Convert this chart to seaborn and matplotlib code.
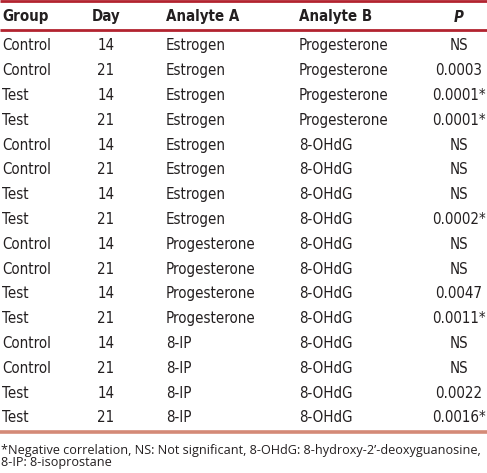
import matplotlib
matplotlib.use("Agg")
import matplotlib.pyplot as plt
import seaborn as sns
from matplotlib import font_manager

sns.set_theme(style="white")

# ---- data ----
headers = ["Group", "Day", "Analyte A", "Analyte B", "P"]
group = ["Control", "Control", "Test", "Test", "Control", "Control", "Test", "Test",
         "Control", "Control", "Test", "Test", "Control", "Control", "Test", "Test"]
day = ["14", "21", "14", "21", "14", "21", "14", "21",
       "14", "21", "14", "21", "14", "21", "14", "21"]
analyte_a = ["Estrogen"] * 8 + ["Progesterone"] * 4 + ["8-IP"] * 4
analyte_b = ["Progesterone"] * 4 + ["8-OHdG"] * 12
p_values = ["NS", "0.0003", "0.0001*", "0.0001*", "NS", "NS", "NS", "0.0002*",
            "NS", "NS", "0.0047", "0.0011*", "NS", "NS", "0.0022", "0.0016*"]
footnote = ["*Negative correlation, NS: Not significant, 8-OHdG: 8-hydroxy-2\u2019-deoxyguanosine,",
            "8-IP: 8-isoprostane"]

names = {f.name for f in font_manager.fontManager.ttflist}
cond = [f for f in font_manager.fontManager.ttflist if f.name == "DejaVu Sans" and f.stretch == "condensed"]
if "Liberation Sans Narrow" in names:
    main_font, stretch, fs = "Liberation Sans Narrow", "normal", 11.3
elif cond:
    main_font, stretch, fs = "DejaVu Sans", "condensed", 10.8
else:
    main_font, stretch, fs = "Liberation Sans", "normal", 10.6
foot_font = "Open Sans"

W, H = 487, 473
fig = plt.figure(figsize=(W / 100, H / 100), dpi=100)
ax = fig.add_axes([0, 0, 1, 1])
ax.set_xlim(0, W)
ax.set_ylim(H, 0)
ax.axis("off")

txt = "#231f20"
dark_red = "#b2232f"
salmon = "#d48a77"

# column anchors (layout)
col_x = [2, 106, 166, 299, 459]
col_ha = ["left", "center", "left", "left", "center"]

# rules
ax.plot([0, W], [1.3, 1.3], color=dark_red, lw=2.0, solid_capstyle="butt")
ax.plot([0, W], [30.5, 30.5], color=dark_red, lw=2.0, solid_capstyle="butt")
ax.plot([0, W], [432, 432], color=salmon, lw=2.6, solid_capstyle="butt")

# header
for i, h in enumerate(headers):
    style = "italic" if h == "P" else "normal"
    ax.text(col_x[i], 21.5, h, ha=col_ha[i], va="baseline", fontsize=fs,
            fontweight="bold", fontstyle=style, family=main_font,
            fontstretch=stretch, color=txt)

row_y0, row_dy = 50.3, 24.8
cols = [group, day, analyte_a, analyte_b, p_values]
for r in range(len(group)):
    y = row_y0 + r * row_dy
    for c, data in enumerate(cols):
        ax.text(col_x[c], y, data[r], ha=col_ha[c], va="baseline", fontsize=fs,
                family=main_font, fontstretch=stretch, color=txt)

ax.text(1, 453.5, footnote[0], ha="left", va="baseline", fontsize=9.1,
        family=foot_font, color=txt)
ax.text(1, 466, footnote[1], ha="left", va="baseline", fontsize=9.1,
        family=foot_font, color=txt)

fig.savefig("out.png", dpi=100)
